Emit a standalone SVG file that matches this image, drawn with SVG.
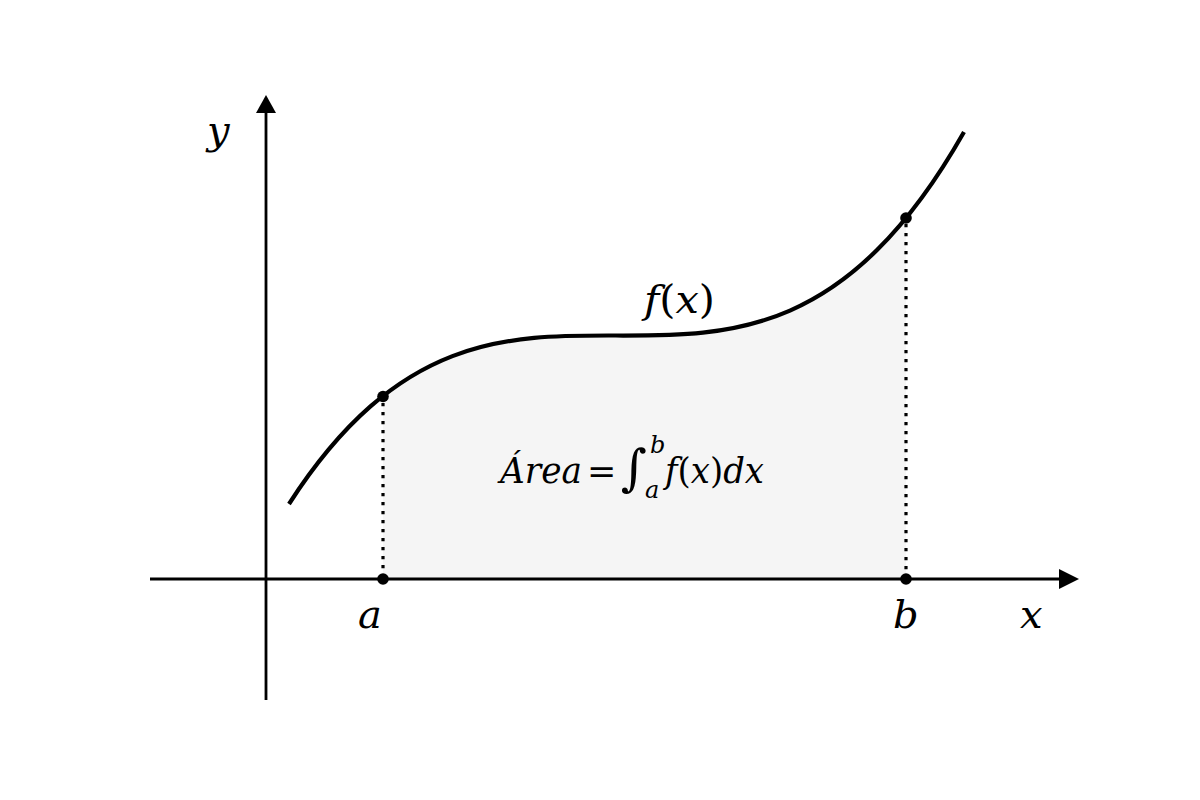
<svg xmlns="http://www.w3.org/2000/svg" width="1200" height="800" viewBox="0 0 1200 800">
  <style>
    .lbl { font-family: "DejaVu Serif", "Liberation Serif", serif; font-style: italic; fill: #000; }
    .up { font-style: normal; }
    .axis { stroke: #000; stroke-width: 2.8; fill: none; }
    .dot { fill: #000; }
    .guide { stroke: #000; stroke-width: 3.2; stroke-dasharray: 3.2 5.8; fill: none; }
  </style>
  <defs>
    <clipPath id="ab">
      <rect x="383" y="0" width="523" height="800"/>
    </clipPath>
  </defs>
  <rect width="1200" height="800" fill="#fff"/>
  <g id="area">
    <path d="M289,504 C514,154.5 739,528.3 964,132 L964,579 L289,579 Z" fill="#f5f5f5" clip-path="url(#ab)"/>
  </g>
  <g id="connectors">
    <line class="axis" x1="150" y1="579" x2="1060" y2="579"/>
    <polygon points="1059,569 1079,579 1059,589" fill="#000"/>
    <line class="axis" x1="266" y1="700" x2="266" y2="112"/>
    <polygon points="256,113 266,95 276,113" fill="#000"/>
    <line class="guide" x1="383" y1="403" x2="383" y2="579"/>
    <line class="guide" x1="906" y1="224" x2="906" y2="579"/>
  </g>
  <g id="curve">
    <path d="M289,504 C514,154.5 739,528.3 964,132" fill="none" stroke="#000" stroke-width="4.2"/>
  </g>
  <g id="points">
    <circle class="dot" cx="383" cy="396.5" r="5.8"/>
    <circle class="dot" cx="906" cy="218" r="5.8"/>
    <circle class="dot" cx="383" cy="579" r="5.8"/>
    <circle class="dot" cx="906" cy="579" r="5.8"/>
  </g>
  <g id="labels">
    <text class="lbl" x="207" y="144" font-size="40">y</text>
    <text class="lbl" x="358" y="628" font-size="40">a</text>
    <text class="lbl" x="893" y="628" font-size="40">b</text>
    <text class="lbl" x="1020" y="628" font-size="40">x</text>
    <text class="lbl" x="644" y="313" font-size="40" textLength="71" lengthAdjust="spacingAndGlyphs">f<tspan class="up">(</tspan>x<tspan class="up">)</tspan></text>
  </g>
  <g id="formula">
    <text class="lbl" x="500" y="483" font-size="35" textLength="82" lengthAdjust="spacingAndGlyphs">Área</text>
    <text class="lbl up" x="587" y="483" font-size="35">=</text>
    <text class="lbl up" x="621" y="485" font-size="50">∫</text>
    <text class="lbl" x="650" y="453" font-size="24">b</text>
    <text class="lbl" x="645" y="498" font-size="24">a</text>
    <text class="lbl" x="665" y="483" font-size="35" textLength="99" lengthAdjust="spacingAndGlyphs">f<tspan class="up">(</tspan>x<tspan class="up">)</tspan>dx</text>
  </g>
</svg>
